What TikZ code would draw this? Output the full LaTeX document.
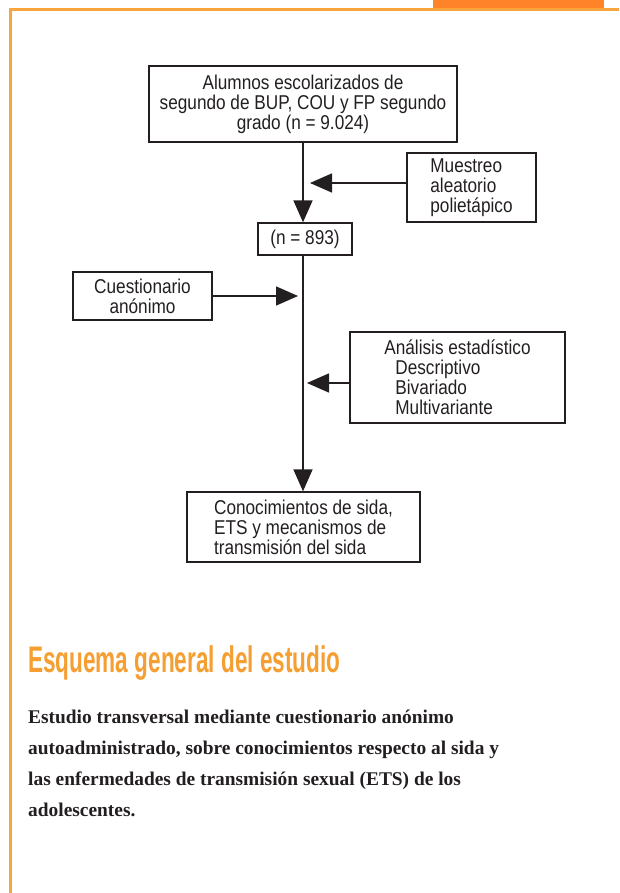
\documentclass[tikz,border=0pt]{standalone}
\usepackage{fontspec}
\setmainfont{Liberation Serif}
\newfontfamily\boxfont[FakeStretch=0.86]{Liberation Sans}
\newfontfamily\titlefont[FakeStretch=0.61]{Liberation Sans}
\usepackage{tikz}
\usetikzlibrary{arrows.meta, positioning, calc}
\definecolor{FrameOrange}{HTML}{F9A43C}
\definecolor{TabOrange}{HTML}{FF8429}
\definecolor{TitleOrange}{HTML}{F59E32}
\definecolor{InkGray}{HTML}{231F20}
\tikzset{
  flowbox/.style={rectangle, draw=InkGray, line width=1.3pt, align=center, inner sep=2pt, text=InkGray, font=\boxfont\fontsize{20}{20}\selectfont},
  listbox/.style={flowbox, align=left},
  arrow/.style={-{Triangle[length=22pt, width=19pt]}, line width=1.6pt, InkGray},
  titletext/.style={anchor=base west, inner sep=0pt, text=TitleOrange, font=\titlefont\bfseries\fontsize{37}{37}\selectfont},
  bodytext/.style={anchor=base west, inner sep=0pt, align=left, text=InkGray, font=\bfseries\fontsize{19.4}{31}\selectfont}
}
\begin{document}
\begin{tikzpicture}[x=1pt, y=-1pt]
  \useasboundingbox (0,0) rectangle (619,893);
  \fill[TabOrange] (433,0) rectangle (604,9);
  \draw[FrameOrange, line width=3pt] (619,10) -- (10.5,10) -- (10.5,893);

  \node[flowbox, minimum width=308pt, minimum height=76pt] (alumnos) at (303,104) {Alumnos escolarizados de\\segundo de BUP, COU y FP segundo\\grado (n = 9.024)};
  \node[listbox, minimum width=129pt, minimum height=69pt] (muestreo) at (471.5,187.5) {Muestreo\\aleatorio\\polietápico};
  \node[flowbox, minimum width=94pt, minimum height=32pt] (muestra) at (305,239) {(n = 893)};
  \node[flowbox, minimum width=139pt, minimum height=48pt] (cuestionario) at (142.5,296) {Cuestionario\\anónimo};
  \node[listbox, minimum width=215pt, minimum height=91pt] (analisis) at (457.5,377.5) {Análisis estadístico\\\hspace*{11pt}Descriptivo\\\hspace*{11pt}Bivariado\\\hspace*{11pt}Multivariante};
  \node[listbox, minimum width=233pt, minimum height=70pt] (conocimientos) at (303.5,527) {Conocimientos de sida,\\ETS y mecanismos de\\transmisión del sida};

  \coordinate (tipmuestreo) at (310,183);
  \coordinate (tipcuestionario) at (298,296);
  \coordinate (tipanalisis) at (307,383);

  \draw[arrow] (alumnos.south) -- (alumnos.south |- muestra.north);
  \draw[arrow] (alumnos.south |- muestra.south) -- (alumnos.south |- conocimientos.north);
  \draw[arrow] (muestreo.west |- tipmuestreo) -- (tipmuestreo);
  \draw[arrow] (cuestionario.east) -- (tipcuestionario);
  \draw[arrow] (analisis.west |- tipanalisis) -- (tipanalisis);

  \node[titletext] (titulo) at (28,672) {Esquema general del estudio};
  \node[bodytext] (resumen) at (28,816) {Estudio transversal mediante cuestionario anónimo\\autoadministrado, sobre conocimientos respecto al sida y\\las enfermedades de transmisión sexual (ETS) de los\\adolescentes.};
\end{tikzpicture}
\end{document}
